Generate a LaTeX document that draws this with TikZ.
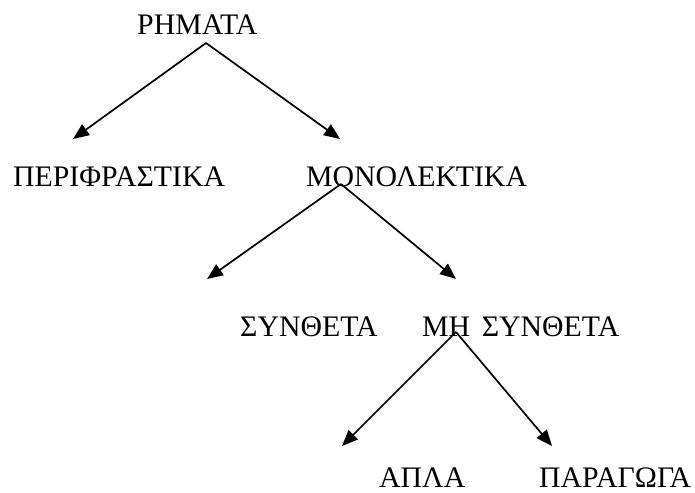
\documentclass[tikz,border=0pt]{standalone}
\usepackage{fontspec}
\setmainfont{Liberation Serif}
\usetikzlibrary{arrows.meta}
\begin{document}
\begin{tikzpicture}[x=1pt,y=-1pt,
  term/.style={anchor=base west,inner sep=0pt,text depth=0pt,font=\fontsize{29.8}{31}\selectfont},
  branch/.style={line width=1.7pt,-{Triangle[length=16pt,width=13pt]}}]
\useasboundingbox (0,0) rectangle (695,492);
% terms of the classification
\node[term] (rhm) at (137,35) {ΡΗΜΑΤΑ};
\node[term] (per) at (13,186) {ΠΕΡΙΦΡΑΣΤΙΚΑ};
\node[term] (mon) at (306,186) {ΜΟΝΟΛΕΚΤΙΚΑ};
\node[term] (syn) at (240,336) {ΣΥΝΘΕΤΑ};
\node[term] (msy) at (422,336) {ΜΗ\hspace{0.14em} ΣΥΝΘΕΤΑ};
\node[term] (apl) at (379,487) {ΑΠΛΑ};
\node[term] (par) at (539,487) {ΠΑΡΑΓΩΓΑ};
% branch points and arrow ends
\coordinate (a1) at (206,43);
\coordinate (t1l) at (73,139);
\coordinate (t1r) at (340,139);
\coordinate (a2) at (341,184);
\coordinate (t2l) at (207,279);
\coordinate (t2r) at (456,279);
\coordinate (a3) at (456,332);
\coordinate (t3l) at (342,446);
\coordinate (t3r) at (552,446);
% branches
\draw[branch] (a1) -- (t1l);
\draw[branch] (a1) -- (t1r);
\draw[branch] (a2) -- (t2l);
\draw[branch] (a2) -- (t2r);
\draw[branch] (a3) -- (t3l);
\draw[branch] (a3) -- (t3r);
\end{tikzpicture}
\end{document}
